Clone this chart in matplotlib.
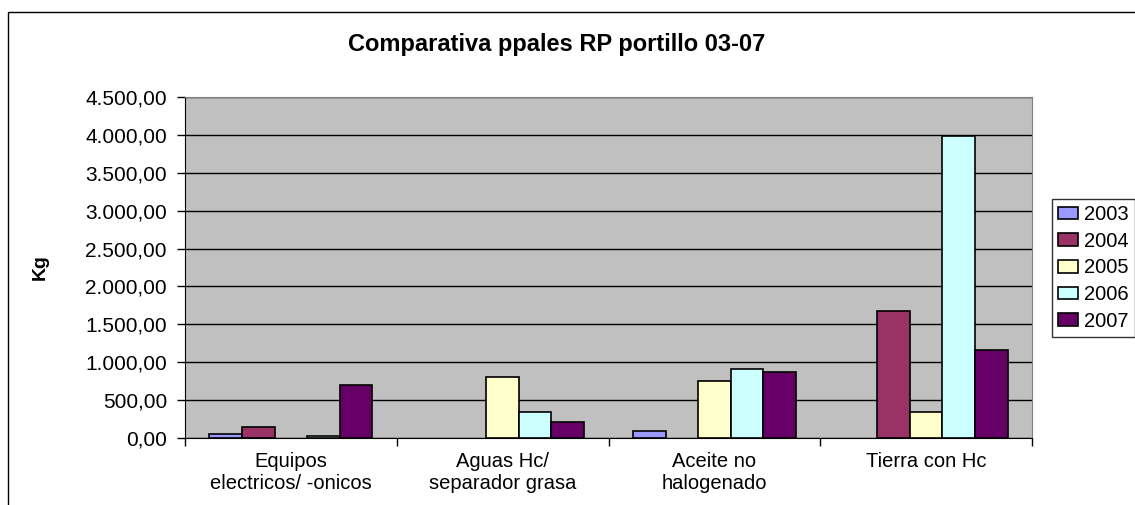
import matplotlib.pyplot as plt
import numpy as np
from matplotlib.patches import Rectangle
from matplotlib.ticker import FuncFormatter, MultipleLocator

plt.rcParams['font.family'] = ['Liberation Sans', 'DejaVu Sans']

categories = ["Equipos\nelectricos/ -onicos", "Aguas Hc/\nseparador grasa",
              "Aceite no\nhalogenado", "Tierra con Hc"]
years = ["2003", "2004", "2005", "2006", "2007"]
v2003 = [57, 0, 91, 0]
v2004 = [143, 0, 0, 1675]
v2005 = [0, 804, 752, 338]
v2006 = [25, 339, 904, 3982]
v2007 = [700, 209, 874, 1162]
series = [v2003, v2004, v2005, v2006, v2007]
colors = ["#9999FF", "#993366", "#FFFFCC", "#CCFFFF", "#660066"]

fig = plt.figure(figsize=(11.35, 5.05), dpi=100)
ax = fig.add_axes([185/1135, 1-438/505, (1032-185)/1135, (438-97)/505])
ax.set_facecolor("#C0C0C0")

x = np.arange(len(categories))
w = 1/6.5
for i, vals in enumerate(series):
    # empty cells in the sheet: no bar drawn at all
    h = np.array(vals, dtype=float)
    h[h == 0] = np.nan
    ax.bar(x + (i-2)*w, h, w, color=colors[i], edgecolor="black",
           linewidth=1.2, label=years[i], zorder=3)

ax.set_xlim(-0.5, 3.5)
ax.set_ylim(0, 4500)
ax.yaxis.set_major_locator(MultipleLocator(500))
ax.yaxis.set_major_formatter(FuncFormatter(
    lambda v, p: f"{v:,.2f}".replace(",", "X").replace(".", ",").replace("X", ".")))
ax.grid(axis="y", color="black", linewidth=1, zorder=1)
ax.tick_params(axis="y", labelsize=15, length=6, width=1, pad=7)

ax.set_xticks(x)
ax.set_xticklabels(categories, fontsize=14.5, linespacing=1.2)
ax.set_xticks(np.arange(-0.5, 4, 1), minor=True)
ax.tick_params(axis="x", which="major", length=0, pad=10)
ax.tick_params(axis="x", which="minor", length=6, width=1)

for s in ["top", "right"]:
    ax.spines[s].set_color("#808080")
for s in ["left", "bottom"]:
    ax.spines[s].set_color("black")

fig.text(40/1135, 1-267/505, "Kg", rotation=90, fontsize=14, fontweight="bold",
         ha="center", va="center")
fig.text(557/1135, 1-45/505, "Comparativa ppales RP portillo 03-07", fontsize=17,
         fontweight="bold", ha="center", va="center")

fig.legend(loc="upper left", bbox_to_anchor=(1052/1135, 1-199/505), fontsize=14.5,
           frameon=True, fancybox=False, edgecolor="black", borderaxespad=0,
           handlelength=1.0, handleheight=0.6, handletextpad=0.3,
           labelspacing=0.38, borderpad=0.3)

fig.patches.append(Rectangle((8/1135, -0.1), 1.2, 1-12/505+0.1, transform=fig.transFigure,
                             fill=False, edgecolor="black", linewidth=1))

fig.savefig("out.png")
